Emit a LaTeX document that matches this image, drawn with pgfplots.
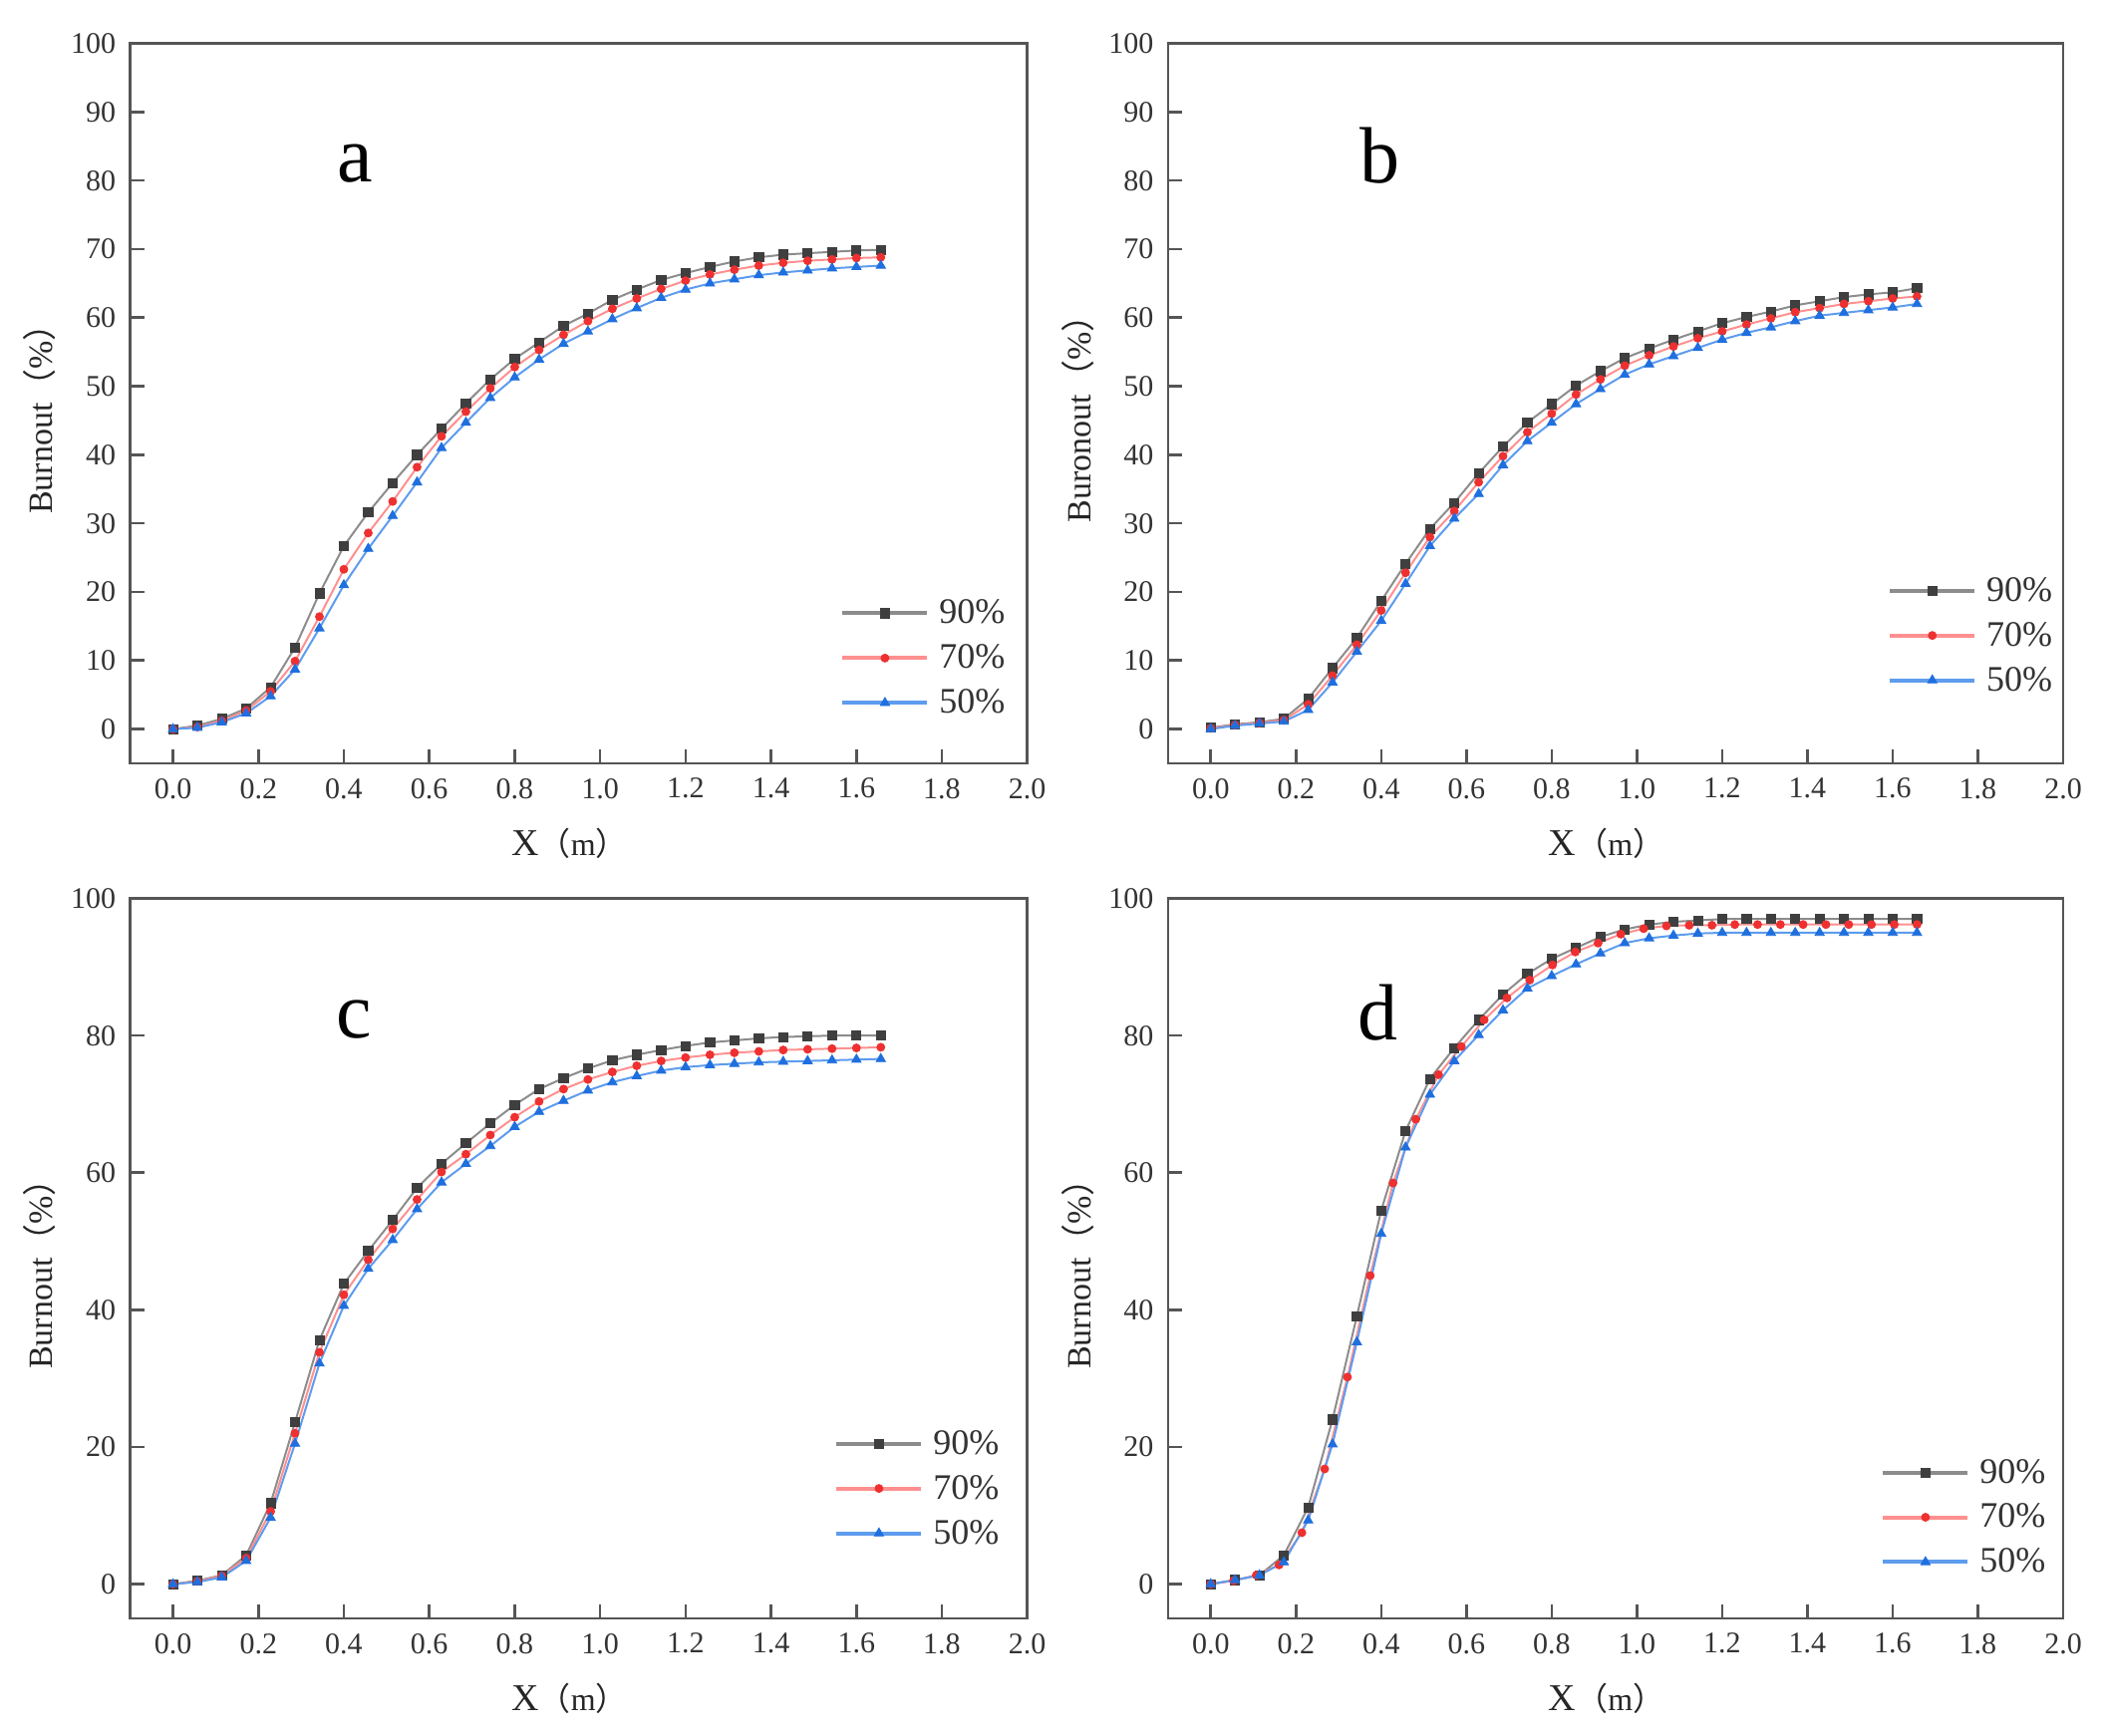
\documentclass[border=0pt]{standalone}
\usepackage{pgfplots}
\pgfplotsset{compat=1.18}
\usepackage{pgfplotstable}
\usepackage{fontspec}
\setmainfont{Liberation Serif}
\newfontfamily\cjk{Noto Sans CJK SC}

\definecolor{axgray}{HTML}{555555}
\definecolor{txtgray}{HTML}{333333}
\definecolor{c90m}{HTML}{3F3F3F}
\definecolor{c90l}{HTML}{8C8C8C}
\definecolor{c70m}{HTML}{EE3030}
\definecolor{c70l}{HTML}{FF9090}
\definecolor{c50m}{HTML}{1F6FDE}
\definecolor{c50l}{HTML}{5E9CEE}

\pgfplotstableread{
x s90 s70 s50
0      0    0    0
0.0571 0.5  0.3  0.2
0.1143 1.5  1.2  1.0
0.1714 3.0  2.7  2.3
0.2286 6.1  5.5  4.8
0.2857 11.9 9.9  8.7
0.3429 19.8 16.4 14.7
0.4    26.7 23.3 21.0
0.4571 31.6 28.6 26.3
0.5143 35.9 33.2 31.1
0.5714 40.0 38.2 36.0
0.6286 43.8 42.7 41.0
0.6857 47.5 46.3 44.7
0.7429 51.0 49.7 48.3
0.8    54.0 52.8 51.3
0.8571 56.4 55.3 53.9
0.9143 58.8 57.5 56.2
0.9714 60.6 59.5 58.0
1.0286 62.6 61.3 59.8
1.0857 64.1 62.8 61.4
1.1429 65.5 64.2 62.9
1.2    66.5 65.4 64.1
1.2571 67.4 66.3 65.0
1.3143 68.2 67.0 65.6
1.3714 68.8 67.6 66.2
1.4286 69.2 68.0 66.6
1.4857 69.4 68.3 66.9
1.5429 69.6 68.5 67.2
1.6    69.8 68.7 67.4
1.6571 69.9 68.8 67.6
}\dataA

\pgfplotstableread{
x s90 s70 s50
0      0.2  0.1  0.0
0.0571 0.7  0.6  0.5
0.1143 1.0  0.9  0.8
0.1714 1.5  1.3  1.1
0.2286 4.4  3.6  2.8
0.2857 8.9  7.8  6.8
0.3429 13.3 12.3 11.3
0.4    18.7 17.3 15.8
0.4571 24.1 22.8 21.2
0.5143 29.2 28.0 26.7
0.5714 33.0 31.8 30.7
0.6286 37.3 36.0 34.3
0.6857 41.2 39.8 38.5
0.7429 44.7 43.3 42.0
0.8    47.4 46.0 44.7
0.8571 50.1 48.8 47.4
0.9143 52.2 51.0 49.6
0.9714 54.1 53.0 51.7
1.0286 55.5 54.5 53.2
1.0857 56.8 55.8 54.4
1.1429 58.0 57.0 55.6
1.2    59.2 58.0 56.8
1.2571 60.1 59.0 57.8
1.3143 60.9 59.9 58.6
1.3714 61.8 60.8 59.5
1.4286 62.4 61.4 60.3
1.4857 63.0 62.0 60.7
1.5429 63.4 62.4 61.1
1.6    63.7 62.8 61.5
1.6571 64.3 63.1 62.0
}\dataB

\pgfplotstableread{
x s90 s70 s50
0      0    0    0
0.0571 0.5  0.4  0.3
0.1143 1.3  1.2  1.0
0.1714 4.2  3.8  3.4
0.2286 11.8 10.6 9.7
0.2857 23.6 22.0 20.5
0.3429 35.6 33.8 32.2
0.4    43.8 42.2 40.6
0.4571 48.6 47.3 46.0
0.5143 53.1 51.8 50.2
0.5714 57.8 56.1 54.7
0.6286 61.3 60.1 58.6
0.6857 64.3 62.7 61.3
0.7429 67.2 65.5 63.9
0.8    69.9 68.1 66.7
0.8571 72.2 70.4 68.9
0.9143 73.8 72.2 70.5
0.9714 75.2 73.6 72.0
1.0286 76.4 74.7 73.2
1.0857 77.2 75.6 74.1
1.1429 77.9 76.3 74.9
1.2    78.5 76.8 75.4
1.2571 79.0 77.2 75.7
1.3143 79.3 77.5 75.9
1.3714 79.6 77.7 76.1
1.4286 79.8 77.9 76.2
1.4857 79.9 78.0 76.3
1.5429 80.0 78.1 76.4
1.6    80.0 78.2 76.5
1.6571 80.0 78.3 76.6
}\dataC

\pgfplotstableread{
x s90 s50
0      0    0
0.0571 0.6  0.6
0.1143 1.3  1.3
0.1714 4.2  3.2
0.2286 11.2 9.3
0.2857 24.0 20.4
0.3429 39.1 35.3
0.4    54.5 51.1
0.4571 66.1 63.7
0.5143 73.7 71.4
0.5714 78.2 76.3
0.6286 82.3 80.1
0.6857 86.0 83.7
0.7429 89.0 86.9
0.8    91.2 88.7
0.8571 92.8 90.4
0.9143 94.4 92.0
0.9714 95.5 93.5
1.0286 96.2 94.2
1.0857 96.6 94.6
1.1429 96.8 94.9
1.2    97.0 95.0
1.2571 97.0 95.0
1.3143 97.0 95.0
1.3714 97.0 95.0
1.4286 97.0 95.0
1.4857 97.0 95.0
1.5429 97.0 95.0
1.6    97.0 95.0
1.6571 97.0 95.0
}\dataD

\pgfplotstableread{
x s70
0      0
0.0535 0.5
0.1069 1.3
0.1604 2.8
0.2138 7.5
0.2673 16.8
0.3208 30.2
0.3742 45.0
0.4277 58.5
0.4811 67.8
0.5346 74.3
0.5881 78.4
0.6415 82.3
0.6950 85.5
0.7484 88.1
0.8019 90.3
0.8554 92.2
0.9088 93.5
0.9623 94.8
1.0157 95.6
1.0692 96.0
1.1226 96.1
1.1761 96.1
1.2296 96.2
1.2830 96.2
1.3365 96.2
1.3899 96.2
1.4434 96.2
1.4969 96.2
1.5503 96.2
1.6038 96.2
1.6572 96.2
}\dataDred

\pgfplotsset{
  panel/.style={
    scale only axis, width=450pt, height=361.2pt,
    anchor=south west,
    xmin=-0.1, xmax=2.0, ymin=-5, ymax=100,
    xtick={0,0.2,0.4,0.6,0.8,1.0,1.2,1.4,1.6,1.8,2.0},
    xticklabel style={yshift=-4pt, /pgf/number format/fixed, /pgf/number format/fixed zerofill, /pgf/number format/precision=1},
    /pgf/number format/assume math mode=true,
    ticklabel style={font=\fontsize{15}{15}\selectfont, text=txtgray},
    yticklabel style={xshift=-3.8pt},
    axis line style={axgray, line width=1.3pt},
    tick style={axgray, line width=1.3pt},
    tick align=inside, major tick length=7pt,
    xtick pos=bottom, ytick pos=left,
    xlabel={{\fontsize{19}{19}\selectfont X}{\cjk （}m{\cjk ）}},
    xlabel style={at={(axis description cs:0.49,-0.111)}, anchor=center, font=\fontsize{16}{16}\selectfont, text=black!85},
    ylabel style={at={(axis description cs:-0.1008,0.49)}, anchor=center, font=\fontsize{17}{17}\selectfont, text=black!85},
    legend cell align=left,
    legend image code/.code={\draw[mark repeat=2, mark phase=2, ##1, line width=2pt] plot coordinates {(0pt,0pt) (21.25pt,0pt) (42.5pt,0pt)};},
    legend style={draw=none, fill=none, anchor=north west, inner sep=0pt,
      font=\fontsize{18}{18}\selectfont, text=txtgray,
      nodes={inner sep=0pt}, row sep=9pt, column sep=5pt},
  },
  s90/.style={c90l, line width=1pt, mark=square*, mark size=2.3pt, mark options={fill=c90m, draw=c90m, line width=0.4pt}},
  s70/.style={c70l, line width=1pt, mark=*, mark size=2pt, mark options={fill=c70m, draw=c70m, line width=0.4pt}},
  s50/.style={c50l, line width=1pt, mark=triangle*, mark size=2.7pt, mark options={fill=c50m, draw=c50m, line width=0.4pt}},
}

\begin{document}
\begin{tikzpicture}
\path[use as bounding box] (0,0) rectangle (1054.5pt,870.5pt);

% panel a
\begin{axis}[panel, at={(65.35pt,487.5pt)},
  ytick={0,10,...,100},
  ylabel={Burnout{\cjk （}\%{\cjk ）}},
  legend style={at={(axis cs:1.562,18.9)}}]
\addplot[s90] table[x=x,y=s90] {\dataA};
\addplot[s70] table[x=x,y=s70] {\dataA};
\addplot[s50] table[x=x,y=s50] {\dataA};
\legend{90\%,70\%,50\%}
\node[font=\fontsize{40}{40}\selectfont] at (axis cs:0.427,82.5) {a};
\end{axis}

% panel b
\begin{axis}[panel, at={(586pt,487.5pt)}, width=449pt,
  ytick={0,10,...,100},
  ylabel={Buronout{\cjk （}\%{\cjk ）}},
  legend style={at={(axis cs:1.588,22.2)}}]
\addplot[s90] table[x=x,y=s90] {\dataB};
\addplot[s70] table[x=x,y=s70] {\dataB};
\addplot[s50] table[x=x,y=s50] {\dataB};
\legend{90\%,70\%,50\%}
\node[font=\fontsize{40}{40}\selectfont] at (axis cs:0.397,83.6) {b};
\end{axis}

% panel c
\begin{axis}[panel, at={(65.35pt,58.5pt)},
  ytick={0,20,...,100},
  ylabel={Burnout{\cjk （}\%{\cjk ）}},
  legend style={at={(axis cs:1.548,22.5)}}]
\addplot[s90] table[x=x,y=s90] {\dataC};
\addplot[s70] table[x=x,y=s70] {\dataC};
\addplot[s50] table[x=x,y=s50] {\dataC};
\legend{90\%,70\%,50\%}
\node[font=\fontsize{40}{40}\selectfont] at (axis cs:0.424,82.4) {c};
\end{axis}

% panel d
\begin{axis}[panel, at={(586pt,58.5pt)}, width=449pt,
  ytick={0,20,...,100},
  ylabel={Burnout{\cjk （}\%{\cjk ）}},
  legend style={at={(axis cs:1.572,18.3)}}]
\addplot[s90] table[x=x,y=s90] {\dataD};
\addplot[s70] table[x=x,y=s70] {\dataDred};
\addplot[s50] table[x=x,y=s50] {\dataD};
\legend{90\%,70\%,50\%}
\node[font=\fontsize{40}{40}\selectfont] at (axis cs:0.393,83.3) {d};
\end{axis}
\end{tikzpicture}
\end{document}
